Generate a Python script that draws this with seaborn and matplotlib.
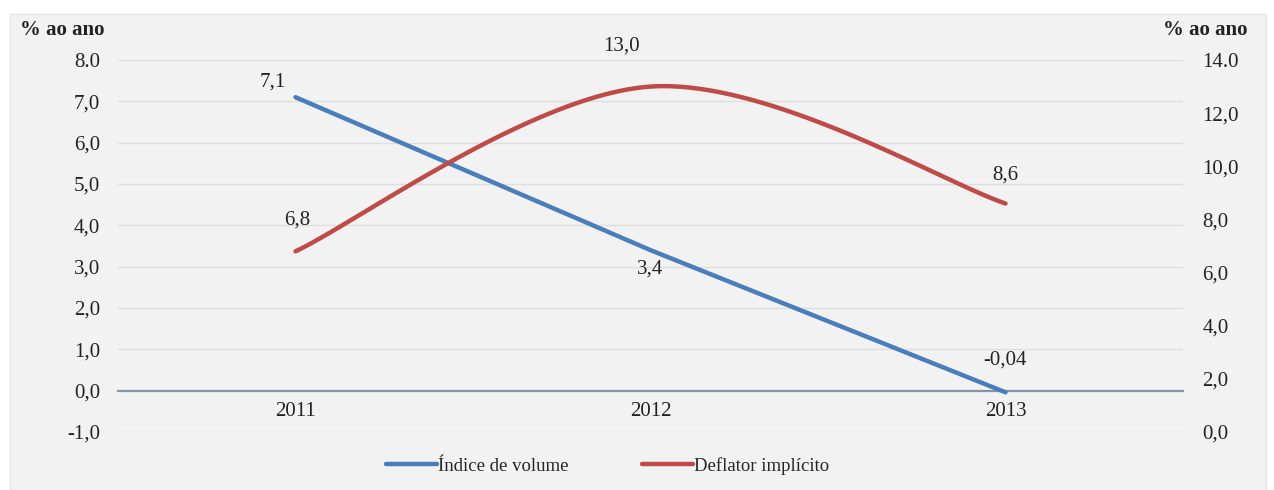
import numpy as np
import pandas as pd
import matplotlib
matplotlib.use("Agg")
import matplotlib.pyplot as plt
from matplotlib.patches import Rectangle
from matplotlib.ticker import FixedLocator, FixedFormatter
import seaborn as sns

# Data
years = ["2011", "2012", "2013"]
volume = [7.1, 3.4, -0.04]          # Índice de volume (left axis)
deflator = [6.8, 13.0, 8.6]         # Deflator implícito (right axis)
volume_labels = ["7,1", "3,4", "-0,04"]
deflator_labels = ["6,8", "13,0", "8,6"]
left_ticks = [-1, 0, 1, 2, 3, 4, 5, 6, 7, 8]
left_tick_labels = ["-1,0", "0,0", "1,0", "2,0", "3,0", "4,0", "5,0", "6,0", "7,0", "8.0"]
right_ticks = [0, 2, 4, 6, 8, 10, 12, 14]
right_tick_labels = ["0,0", "2,0", "4,0", "6,0", "8,0", "10,0", "12,0", "14.0"]
axis_title = "% ao ano"
series_names = ["Índice de volume", "Deflator implícito"]

BLUE = "#4a7ebb"
RED = "#be4b48"
BG = "#f2f2f2"
FS = 15

sns.set_theme(style="white")
plt.rcParams["font.family"] = ["Liberation Serif", "DejaVu Serif"]
plt.rcParams["font.size"] = FS


def smooth_curve(xs, ys, n=60):
    """Cubic Bezier smoothing through the points (Catmull-Rom style tangents)."""
    pts = np.column_stack([xs, ys]).astype(float)
    out = []
    for i in range(len(pts) - 1):
        p0 = pts[i - 1] if i > 0 else pts[i]
        p1, p2 = pts[i], pts[i + 1]
        p3 = pts[i + 2] if i + 2 < len(pts) else pts[i + 1]
        c1 = p1 + (p2 - p0) / 6.0
        c2 = p2 - (p3 - p1) / 6.0
        t = np.linspace(0, 1, n)[:, None]
        seg = ((1 - t) ** 3) * p1 + 3 * ((1 - t) ** 2) * t * c1 + 3 * (1 - t) * t ** 2 * c2 + t ** 3 * p2
        out.append(seg if i == 0 else seg[1:])
    seg = np.vstack(out)
    return seg[:, 0], seg[:, 1]


fig = plt.figure(figsize=(12.74, 4.9), dpi=100)
fig.patch.set_facecolor("white")
fig.add_artist(Rectangle((10 / 1274, 0.0), 1256 / 1274, 1 - 14 / 490,
                         transform=fig.transFigure, facecolor=BG,
                         edgecolor="#e4e4e4", lw=1, zorder=0))

ax = fig.add_axes([118 / 1274, 1 - 432 / 490, (1183 - 118) / 1274, 372 / 490])
ax.patch.set_alpha(0)
ax2 = ax.twinx()
ax2.patch.set_alpha(0)

x = np.arange(len(years))

# Gridlines of the primary axis
for v in left_ticks:
    if v != 0:
        ax.axhline(v, color="#dedede", lw=1, zorder=0)

# Volume index (straight line, primary axis)
sns.lineplot(x=x, y=volume, ax=ax, color=BLUE, lw=3.2, label=series_names[0],
             zorder=3, solid_capstyle="round")

# Implicit deflator (smoothed line, secondary axis)
sx, sy = smooth_curve(x, deflator)
sns.lineplot(x=sx, y=sy, ax=ax2, color=RED, lw=3.2, label=series_names[1],
             sort=False, zorder=3, solid_capstyle="round")

ax.set_xlim(-0.5, 2.5)
ax.set_ylim(-1, 8)
ax2.set_ylim(0, 14)

ax.yaxis.set_major_locator(FixedLocator(left_ticks))
ax.yaxis.set_major_formatter(FixedFormatter(left_tick_labels))
ax2.yaxis.set_major_locator(FixedLocator(right_ticks))
ax2.yaxis.set_major_formatter(FixedFormatter(right_tick_labels))
ax.set_xticks(x)
ax.set_xticklabels(years)

for a in (ax, ax2):
    for s in ("top", "left", "right"):
        a.spines[s].set_visible(False)
    a.tick_params(length=0, labelsize=FS, colors="#222222")
ax2.spines["bottom"].set_visible(False)
ax.spines["bottom"].set_position(("data", 0))
ax.spines["bottom"].set_color("#8595a8")
ax.spines["bottom"].set_linewidth(1.6)
ax.spines["bottom"].set_zorder(1)
ax.tick_params(axis="x", pad=8)
ax.tick_params(axis="y", pad=13)
ax2.tick_params(axis="y", pad=14)
ax.set_xlabel("")
ax.set_ylabel("")
ax2.set_ylabel("")

# Value labels
vol_offsets = [(-23, 15), (0, -19), (0, 32)]
for xi, v, lab, off in zip(x, volume, volume_labels, vol_offsets):
    ax.annotate(lab, (xi, v), xytext=off, textcoords="offset pixels",
                ha="center", va="center", fontsize=FS, color="#222222")
def_offsets = [(2, 31), (-29, 41), (0, 28)]
for xi, v, lab, off in zip(x, deflator, deflator_labels, def_offsets):
    ax2.annotate(lab, (xi, v), xytext=off, textcoords="offset pixels",
                 ha="center", va="center", fontsize=FS, color="#222222")

# Axis titles
fig.text(62 / 1274, 1 - 30 / 490, axis_title, ha="center", va="center",
         fontsize=FS, fontweight="bold", color="#222222")
fig.text(1205 / 1274, 1 - 30 / 490, axis_title, ha="center", va="center",
         fontsize=FS, fontweight="bold", color="#222222")

# Legend
h1, l1 = ax.get_legend_handles_labels()
h2, l2 = ax2.get_legend_handles_labels()
ax.get_legend().remove()
ax2.get_legend().remove()
fig.legend(h1 + h2, l1 + l2, loc="center", bbox_to_anchor=(0.477, 1 - 466 / 490),
           ncol=2, frameon=False, fontsize=13.5, handlelength=2.7,
           handletextpad=0.08, columnspacing=3.9)

fig.savefig("out.png", dpi=100, facecolor="white")
